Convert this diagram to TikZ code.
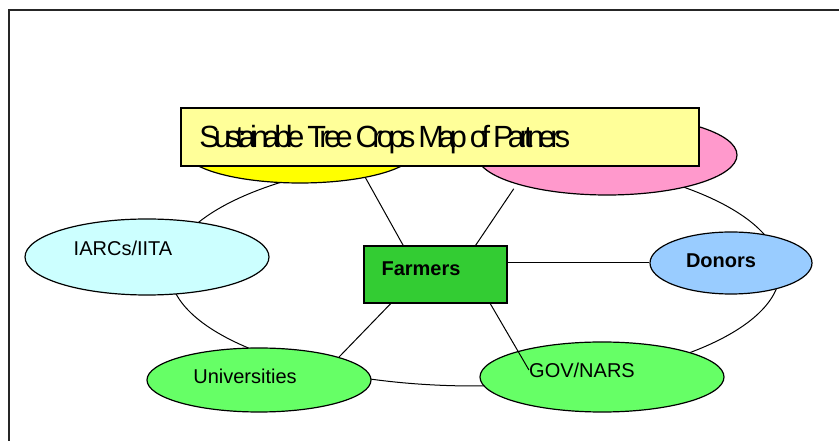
\documentclass[tikz,border=0pt]{standalone}
\usepackage{fontspec}
\setmainfont{Liberation Sans}
\newfontfamily\titlefont[LetterSpace=-18]{Liberation Sans}
\usepackage{tikz}
\usetikzlibrary{shapes.geometric, positioning, arrows}
\usetikzlibrary{backgrounds}

\definecolor{titleyellow}{HTML}{FFFF99}
\definecolor{sunyellow}{HTML}{FFFF00}
\definecolor{rosepink}{HTML}{FF99CC}
\definecolor{palecyan}{HTML}{CCFFFF}
\definecolor{skyblue}{HTML}{99CCFF}
\definecolor{farmgreen}{HTML}{33CC33}
\definecolor{lightgreen}{HTML}{66FF66}

\tikzset{
    partner/.style={ellipse, draw=black, line width=0.9pt, inner sep=0pt},
    link/.style={line width=0.75pt, black},
    txt/.style={inner sep=0pt, font=\fontsize{15}{18}\selectfont}
}

\begin{document}
\begin{tikzpicture}[x=0.75pt, y=-0.75pt]
        \useasboundingbox (0,0) rectangle (839,441);

        \node[partner, fill=sunyellow, minimum width=174pt, minimum height=49.5pt] (yellow) at (300,150) {};
        \node[partner, fill=rosepink, minimum width=195pt, minimum height=60pt] (pink) at (607,155) {};
        \node[partner, fill=palecyan, minimum width=183pt, minimum height=57pt] (iarcs) at (147,257) {};
        \node[partner, fill=skyblue, minimum width=121.5pt, minimum height=46.5pt] (donors) at (731,263) {};
        \node[partner, fill=lightgreen, minimum width=168pt, minimum height=48pt] (uni) at (259,380) {};
        \node[partner, fill=lightgreen, minimum width=183pt, minimum height=52.5pt] (gov) at (602,377) {};
        \node[draw, line width=0.9pt, fill=farmgreen, minimum width=107.25pt, minimum height=42.75pt] (farmers) at (435.5,274.5) {};

        \begin{scope}[on background layer]
            \draw[line width=1.5pt, black!85](9,441)--(9,10)--(839,10);
            \node[ellipse, draw, line width=0.75pt, inner sep=0pt, minimum width=457.5pt, minimum height=172.5pt] (ring) at (475,271) {};
            \draw[link](farmers.138)--(yellow.-23);
            \draw[link, shorten >=4pt](farmers.36.5)--(pink.198);
            \draw[link](farmers.213)--(uni.16);
            \draw[link](donors.west)--(donors.west -| farmers.east);
        \end{scope}

        \node[draw, line width=0.9pt, fill=titleyellow, minimum width=388.5pt, minimum height=43.5pt] (titlebox) at (440,137) {};
        \node[inner sep=0pt, anchor=west, font=\titlefont\fontsize{23}{26}\selectfont] (title) at (199,140) {Sustainable Tree Crops Map of Partners};

        \node[txt] (iarcstext) at (123,248) {IARCs/IITA};
        \node[txt] (unitext) at (245,376) {Universities};
        \node[txt] (govtext) at (582,370) {GOV/NARS};
        \node[txt, font=\fontsize{15}{18}\selectfont\bfseries] (donorstext) at (721,261) {Donors};
        \node[txt, font=\fontsize{15}{18}\selectfont\bfseries] (farmerstext) at (421,269) {Farmers};

        \draw[link](farmers.-28.5)--(govtext.west);
    \end{tikzpicture}
\end{document}
